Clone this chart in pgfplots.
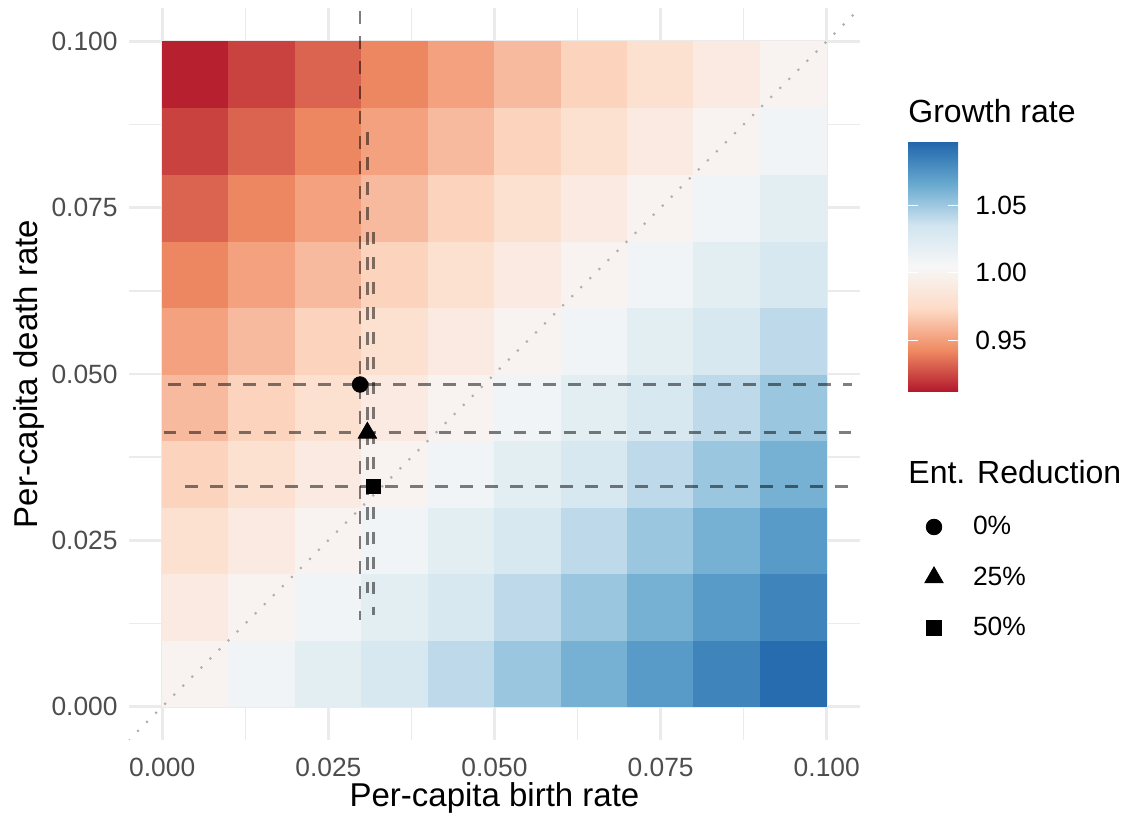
\documentclass[border=0pt]{standalone}
\usepackage{pgfplots}
\pgfplotsset{compat=1.18}
\usepackage{fontspec}
\setmainfont{Liberation Sans}
\definecolor{gridgray}{RGB}{235,235,235}
\definecolor{ticklab}{RGB}{77,77,77}
\definecolor{diag}{RGB}{175,175,175}
\newcommand{\ttl}{\fontsize{16.5}{19}\selectfont}
\newcommand{\ltl}{\fontsize{16}{19}\selectfont}
\newcommand{\txt}{\fontsize{13.2}{15}\selectfont}
\pgfdeclareverticalshading{rdbu}{25pt}{rgb(0pt)=(0.698,0.094,0.169); rgb(20.833pt)=(0.937,0.541,0.384); rgb(41.667pt)=(0.992,0.859,0.780); rgb(62.5pt)=(0.969,0.969,0.969); rgb(83.333pt)=(0.820,0.898,0.941); rgb(104.167pt)=(0.404,0.663,0.812); rgb(125pt)=(0.129,0.400,0.675)}
\begin{document}
\begin{tikzpicture}
\useasboundingbox (-64.5pt,-39pt) rectangle (497pt,370pt);
\begin{axis}[
  name=main,
  at={(0pt,0pt)}, anchor=south west,
  scale only axis, width=365.5pt, height=366pt,
  xmin=-0.005, xmax=0.105, ymin=-0.005, ymax=0.105,
  axis line style={draw=none},
  tick style={draw=none},
  major tick length=0pt, minor tick length=0pt,
  xtick={0,0.025,0.05,0.075,0.1}, ytick={0,0.025,0.05,0.075,0.1},
  minor xtick={0.0125,0.0375,0.0625,0.0875},
  minor ytick={0.0125,0.0375,0.0625,0.0875},
  grid=both,
  major grid style={draw=gridgray, line width=1.3pt},
  minor grid style={draw=gridgray, line width=0.7pt},
  scaled ticks=false,
  /pgf/number format/assume math mode=true,
  xticklabel={\pgfmathprintnumber[fixed,fixed zerofill,precision=3]{\tick}},
  yticklabel={\pgfmathprintnumber[fixed,fixed zerofill,precision=3]{\tick}},
  xticklabel style={font=\txt, text=ticklab, anchor=north, inner sep=0pt, yshift=-9pt},
  yticklabel style={font=\txt, text=ticklab, anchor=east, inner sep=0pt, xshift=-5.5pt},
  xlabel={Per-capita birth rate},
  ylabel={Per-capita death rate},
  xlabel style={font=\ttl, at={(rel axis cs:0.5,0)}, anchor=base, inner sep=0pt, yshift=-33pt},
  ylabel style={font=\ttl, at={([xshift=-45.5pt]rel axis cs:0,0.5)}, anchor=base, inner sep=0pt},
  colormap={rdbu}{rgb255=(178,24,43) rgb255=(239,138,98) rgb255=(253,219,199) rgb255=(247,247,247) rgb255=(209,229,240) rgb255=(103,169,207) rgb255=(33,102,172)},
  point meta min=0.9117, point meta max=1.0969,
  legend image code/.code={\path[draw=none,fill=none] (-10pt,-6pt) rectangle (10pt,6pt); \draw[#1] plot coordinates {(0pt,0pt)};},
  legend cell align=left,
  legend style={at={([xshift=27pt,yshift=-253.5pt]rel axis cs:1,1)}, anchor=north west,
    draw=none, fill=none, inner sep=0pt, outer sep=0pt, row sep=13.25pt,
    font=\txt, nodes={inner sep=0pt},
    /tikz/every odd column/.append style={column sep=9.5pt}},
]
\addplot[matrix plot*, mesh/cols=10, point meta=explicit, forget plot] table[meta=v] {
x y v
0.005 0.005 1.0000
0.015 0.005 1.0101
0.025 0.005 1.0202
0.035 0.005 1.0305
0.045 0.005 1.0408
0.055 0.005 1.0513
0.065 0.005 1.0618
0.075 0.005 1.0725
0.085 0.005 1.0833
0.095 0.005 1.0942
0.005 0.015 0.9900
0.015 0.015 1.0000
0.025 0.015 1.0101
0.035 0.015 1.0202
0.045 0.015 1.0305
0.055 0.015 1.0408
0.065 0.015 1.0513
0.075 0.015 1.0618
0.085 0.015 1.0725
0.095 0.015 1.0833
0.005 0.025 0.9802
0.015 0.025 0.9900
0.025 0.025 1.0000
0.035 0.025 1.0101
0.045 0.025 1.0202
0.055 0.025 1.0305
0.065 0.025 1.0408
0.075 0.025 1.0513
0.085 0.025 1.0618
0.095 0.025 1.0725
0.005 0.035 0.9704
0.015 0.035 0.9802
0.025 0.035 0.9900
0.035 0.035 1.0000
0.045 0.035 1.0101
0.055 0.035 1.0202
0.065 0.035 1.0305
0.075 0.035 1.0408
0.085 0.035 1.0513
0.095 0.035 1.0618
0.005 0.045 0.9608
0.015 0.045 0.9704
0.025 0.045 0.9802
0.035 0.045 0.9900
0.045 0.045 1.0000
0.055 0.045 1.0101
0.065 0.045 1.0202
0.075 0.045 1.0305
0.085 0.045 1.0408
0.095 0.045 1.0513
0.005 0.055 0.9512
0.015 0.055 0.9608
0.025 0.055 0.9704
0.035 0.055 0.9802
0.045 0.055 0.9900
0.055 0.055 1.0000
0.065 0.055 1.0101
0.075 0.055 1.0202
0.085 0.055 1.0305
0.095 0.055 1.0408
0.005 0.065 0.9418
0.015 0.065 0.9512
0.025 0.065 0.9608
0.035 0.065 0.9704
0.045 0.065 0.9802
0.055 0.065 0.9900
0.065 0.065 1.0000
0.075 0.065 1.0101
0.085 0.065 1.0202
0.095 0.065 1.0305
0.005 0.075 0.9324
0.015 0.075 0.9418
0.025 0.075 0.9512
0.035 0.075 0.9608
0.045 0.075 0.9704
0.055 0.075 0.9802
0.065 0.075 0.9900
0.075 0.075 1.0000
0.085 0.075 1.0101
0.095 0.075 1.0202
0.005 0.085 0.9231
0.015 0.085 0.9324
0.025 0.085 0.9418
0.035 0.085 0.9512
0.045 0.085 0.9608
0.055 0.085 0.9704
0.065 0.085 0.9802
0.075 0.085 0.9900
0.085 0.085 1.0000
0.095 0.085 1.0101
0.005 0.095 0.9139
0.015 0.095 0.9231
0.025 0.095 0.9324
0.035 0.095 0.9418
0.045 0.095 0.9512
0.055 0.095 0.9608
0.065 0.095 0.9704
0.075 0.095 0.9802
0.085 0.095 0.9900
0.095 0.095 1.0000
};
\addplot[forget plot, draw=diag, line width=1.5pt, line cap=round, dash pattern=on 0pt off 6.4pt] coordinates {(-0.005,-0.005) (0.105,0.105)};
\pgfplotsset{dashln/.style={forget plot, draw=black, draw opacity=0.5, line width=1.35pt, dash pattern=on 6.25pt off 6.25pt}}
\addplot[dashln] coordinates {(0.02977,0.1045) (0.02977,0.0131)};
\addplot[dashln] coordinates {(0.03087,0.0863) (0.03087,0.0171)};
\addplot[dashln] coordinates {(0.03178,0.0714) (0.03178,0.0138)};
\addplot[dashln] coordinates {(0.0009,0.04842) (0.1038,0.04842)};
\addplot[dashln] coordinates {(0.0002,0.04116) (0.105,0.04116)};
\addplot[dashln] coordinates {(0.0035,0.03313) (0.105,0.03313)};
\addplot[only marks, mark=*, mark size=3.9pt, mark options={draw=none, fill=black}] coordinates {(0.02977,0.04842)};
\addlegendentry{0\%}
\addplot[only marks, mark=triangle*, mark size=5.3pt, mark options={draw=none, fill=black}] coordinates {(0.03087,0.04116)};
\addlegendentry{25\%}
\addplot[only marks, mark=square*, mark size=3.6pt, mark options={draw=none, fill=black}] coordinates {(0.03178,0.03313)};
\addlegendentry{50\%}
\end{axis}
\begin{axis}[
  name=cb,
  at={(389.5pt,299pt)}, anchor=north west,
  scale only axis, width=25pt, height=125pt,
  xmin=0, xmax=1, ymin=0.9117, ymax=1.0969,
  axis on top,
  axis line style={draw=none},
  xtick=\empty,
  ytick={0.95,1,1.05},
  scaled ticks=false,
  /pgf/number format/assume math mode=true,
  yticklabel={\pgfmathprintnumber[fixed,fixed zerofill,precision=2]{\tick}},
  ytick pos=both, yticklabel pos=right,
  tick align=inside, major tick length=5pt,
  tick style={draw=white, line width=0.6pt},
  yticklabel style={font=\txt, text=black, anchor=west, inner sep=0pt, xshift=8.5pt},
]
\node[inner sep=0pt, outer sep=0pt, anchor=south west] at (rel axis cs:0,0) {\pgfuseshading{rdbu}};
\end{axis}
\node[anchor=base west, inner sep=0pt, font=\ltl] at (389.5pt,308.5pt) {Growth rate};
\node[anchor=base west, inner sep=0pt, font=\ltl] at (389.5pt,128pt) {Ent. Reduction};
\end{tikzpicture}
\end{document}
